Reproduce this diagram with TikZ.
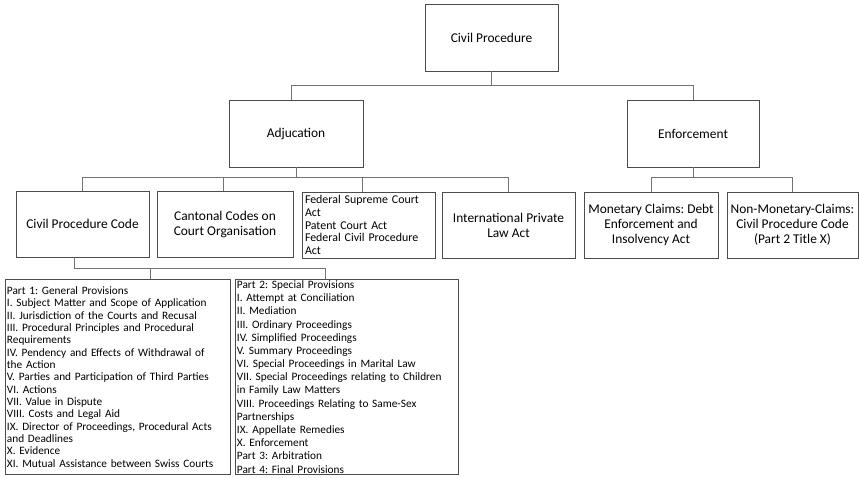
\documentclass[tikz,border=0pt]{standalone}
\usepackage{fontspec}
\setmainfont{Carlito}
\frenchspacing
\begin{document}
\begin{tikzpicture}[x=1pt,y=-1pt,
  box/.style={draw=black!70, line width=0.9pt, inner sep=2pt, align=center,
    font=\fontsize{13.4}{15}\selectfont},
  listbox/.style={draw=black!70, line width=0.9pt, inner xsep=1.5pt, inner ysep=0.5pt,
    align=left, anchor=north west},
  link/.style={draw=black!55, line width=0.9pt}]
\useasboundingbox (0,0) rectangle (859,478);

% top levels
\node[box, minimum width=133pt, minimum height=67pt] (cp) at (491.5,37.5) {Civil Procedure};
\node[box, minimum width=134pt, minimum height=67pt] (adj) at (296,133.5) {Adjucation};
\node[box, minimum width=132pt, minimum height=67pt] (enf) at (693,133.5) {Enforcement};

% third level
\node[box, minimum width=133pt, minimum height=66pt] (cpc) at (82.5,224) {Civil Procedure Code};
\node[box, minimum width=136pt, minimum height=66pt] (cant) at (225,224) {Cantonal Codes on\\Court Organisation};
\node[box, minimum width=133pt, minimum height=66pt, align=left, text width=127pt, inner sep=3pt,
      font=\fontsize{11.9}{12.7}\selectfont] (fed) at (368.5,225)
      {Federal Supreme Court\\Act\\Patent Court Act\\Federal Civil Procedure\\Act};
\node[box, minimum width=133pt, minimum height=66pt] (intl) at (508.5,225) {International Private\\Law Act};
\node[box, minimum width=134pt, minimum height=66pt] (mon) at (651,225) {Monetary Claims: Debt\\Enforcement and\\Insolvency Act};
\node[box, minimum width=131pt, minimum height=66pt] (non) at (792.5,225) {Non-Monetary-Claims:\\Civil Procedure Code\\(Part 2 Title X)};

% list boxes
\node[listbox, text width=222pt, minimum height=195pt, font=\fontsize{11.3}{12.33}\selectfont] (p1) at (5,279)
{Part 1: General Provisions\\
I. Subject Matter and Scope of Application\\
II. Jurisdiction of the Courts and Recusal\\
III. Procedural Principles and Procedural\\
Requirements\\
IV. Pendency and Effects of Withdrawal of\\
the Action\\
V. Parties and Participation of Third Parties\\
VI. Actions\\
VII. Value in Dispute\\
VIII. Costs and Legal Aid\\
IX. Director of Proceedings, Procedural Acts\\
and Deadlines\\
X. Evidence\\
XI. Mutual Assistance between Swiss Courts};
\node[listbox, text width=220pt, minimum height=195pt, font=\fontsize{11.3}{13.17}\selectfont] (p2) at (235,279)
{Part 2: Special Provisions\\
I. Attempt at Conciliation\\
II. Mediation\\
III. Ordinary Proceedings\\
IV. Simplified Proceedings\\
V. Summary Proceedings\\
VI. Special Proceedings in Marital Law\\
VII. Special Proceedings relating to Children\\
in Family Law Matters\\
VIII. Proceedings Relating to Same-Sex\\
Partnerships\\
IX. Appellate Remedies\\
X. Enforcement\\
Part 3: Arbitration\\
Part 4: Final Provisions};

% connectors
\draw[link] (cp.south) -- ++(0,14) coordinate (j0);
\draw[link] (j0) -| ([xshift=-5pt]adj.north);
\draw[link] (j0) -| (enf.north);

\draw[link] (adj.south) -- ++(0,10) coordinate (j1);
\draw[link] (j1) -| (cpc.north);
\draw[link] (j1) -| ([xshift=-2pt]cant.north);
\draw[link] (j1) -| ([xshift=-6pt]fed.north);
\draw[link] (j1) -| (intl.north);

\draw[link] (enf.south) -- ++(0,10) coordinate (j2);
\draw[link] (j2) -| (mon.north);
\draw[link] (j2) -| (non.north);

\draw[link] ([xshift=-8.5pt]cpc.south) -- ++(0,11) coordinate (j3);
\draw[link] (j3) -| ([xshift=32.5pt]p1.north);
\draw[link] (j3) -| ([xshift=-21.5pt]p2.north);
\end{tikzpicture}
\end{document}
